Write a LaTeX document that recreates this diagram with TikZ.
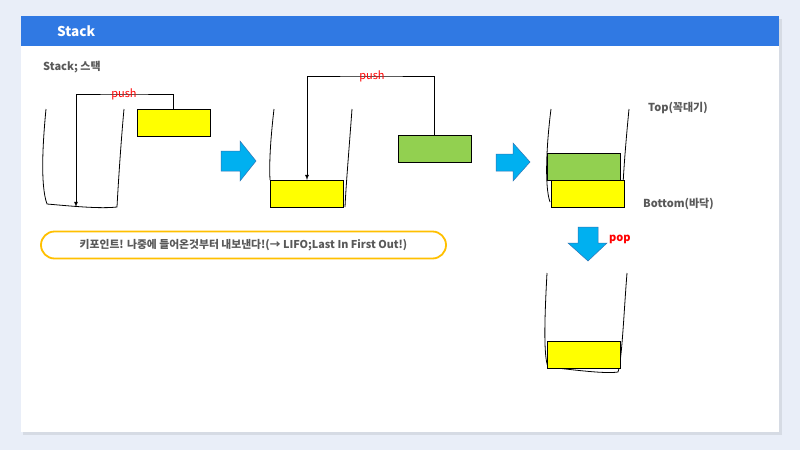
\documentclass[tikz,border=0pt]{standalone}
\usepackage{fontspec}
\setmainfont{Noto Sans CJK KR}
\usepackage{tikz}

\definecolor{bgblue}{HTML}{E9EEF8}
\definecolor{barblue}{HTML}{3079E3}
\definecolor{txtgrey}{HTML}{595959}
\definecolor{boxyellow}{HTML}{FFFF00}
\definecolor{boxgreen}{HTML}{92D050}
\definecolor{arrblue}{HTML}{00B0F0}
\definecolor{arredge}{HTML}{2E75B6}
\definecolor{pillorange}{HTML}{FFC000}

\tikzset{
  ybox/.style={draw, fill=boxyellow, line width=0.9pt, minimum width=73pt, minimum height=27pt, inner sep=0pt},
  gbox/.style={ybox, fill=boxgreen},
  wall/.style={line width=0.8pt},
  pushline/.style={line width=0.8pt, -latex},
  lbl/.style={text=txtgrey, font=\bfseries\fontsize{11}{13}\selectfont, inner sep=0pt},
  redlbl/.style={text=red, font=\fontsize{11}{13}\selectfont, inner sep=0pt},
  bigarrow/.style={fill=arrblue, draw=arredge, line width=0.5pt},
}

\begin{document}
\begin{tikzpicture}
[x=1pt,y=-1pt]
\useasboundingbox (0,0) rectangle (800,450);
\fill[bgblue] (0,0) rectangle (800,450);
\fill[black,opacity=0.08] (23,19) rectangle (782,435);
\fill[white] (21,16) rectangle (779,432);
\fill[barblue] (21,16) rectangle (779,46);
\node[anchor=west, text=white, font=\bfseries\fontsize{13.5}{15}\selectfont, inner sep=0pt] (title) at (57,31) {Stack};
\node[lbl, anchor=west] (sub) at (43,67) {Stack; 스택};

% stack walls
\draw[wall] (46,109) .. controls (43,140) and (40,185) .. (47,204) .. controls (70,206) and (100,209) .. (117,207) .. controls (119,170) and (122,130) .. (124,109);
\draw[wall] (274,109) .. controls (271,135) and (269,160) .. (270,180);
\draw[wall] (352,109) .. controls (349,150) and (346,185) .. (345,207);
\draw[wall] (551,109) .. controls (547,140) and (544,185) .. (550,202);
\draw[wall] (629,109) .. controls (626,140) and (624,165) .. (623,185);
\draw[wall] (547,273) .. controls (545,310) and (543,355) .. (548,367) .. controls (575,370) and (605,374) .. (618,372) .. controls (622,360) and (624,310) .. (627,273);

% boxes
\node[ybox] (y1) at (173.5,122.5) {};
\node[ybox] (y2) at (307,194) {};
\node[gbox] (g2) at (434.5,148.5) {};
\node[gbox] (g3) at (583.5,166.5) {};
\node[ybox] (y3) at (588,194) {};
\node[ybox] (y4) at (584,355) {};

% push lines
\coordinate (t1) at (124,94);
\coordinate (b1) at (76,207);
\coordinate (t2) at (372,76);
\draw[pushline] (y1.north) |- (t1) -| (b1);
\draw[pushline] (g2.north) |- (t2) -| (y2.north);
\node[redlbl] (p1) at (t1) {push};
\node[redlbl] (p2) at (t2) {push};

% block arrows
\draw[bigarrow] (221,151) -- (240,151) -- (240,141) -- (256,161) -- (240,181) -- (240,171) -- (221,171) -- cycle;
\draw[bigarrow] (496,154) -- (513,154) -- (513,143) -- (530,162) -- (513,181) -- (513,171) -- (496,171) -- cycle;
\draw[bigarrow] (578,227) -- (598,227) -- (598,243) -- (607,243) -- (588,261) -- (568,243) -- (578,243) -- cycle;
\node[redlbl, font=\bfseries\fontsize{11}{13}\selectfont, anchor=west] (pop) at (609,239) {pop};

\node[lbl, anchor=west] (top) at (648,108) {Top(꼭대기)};
\node[lbl, anchor=west] (bot) at (643,204) {Bottom(바닥)};

\node[draw=pillorange, line width=1.8pt, rounded corners=13.5pt, minimum width=405pt, minimum height=27pt, lbl, font=\bfseries\fontsize{10.8}{13}\selectfont] (kp) at (243.5,245) {키포인트! 나중에 들어온것부터 내보낸다!(→ LIFO;Last In First Out!)};
\end{tikzpicture}
\end{document}
